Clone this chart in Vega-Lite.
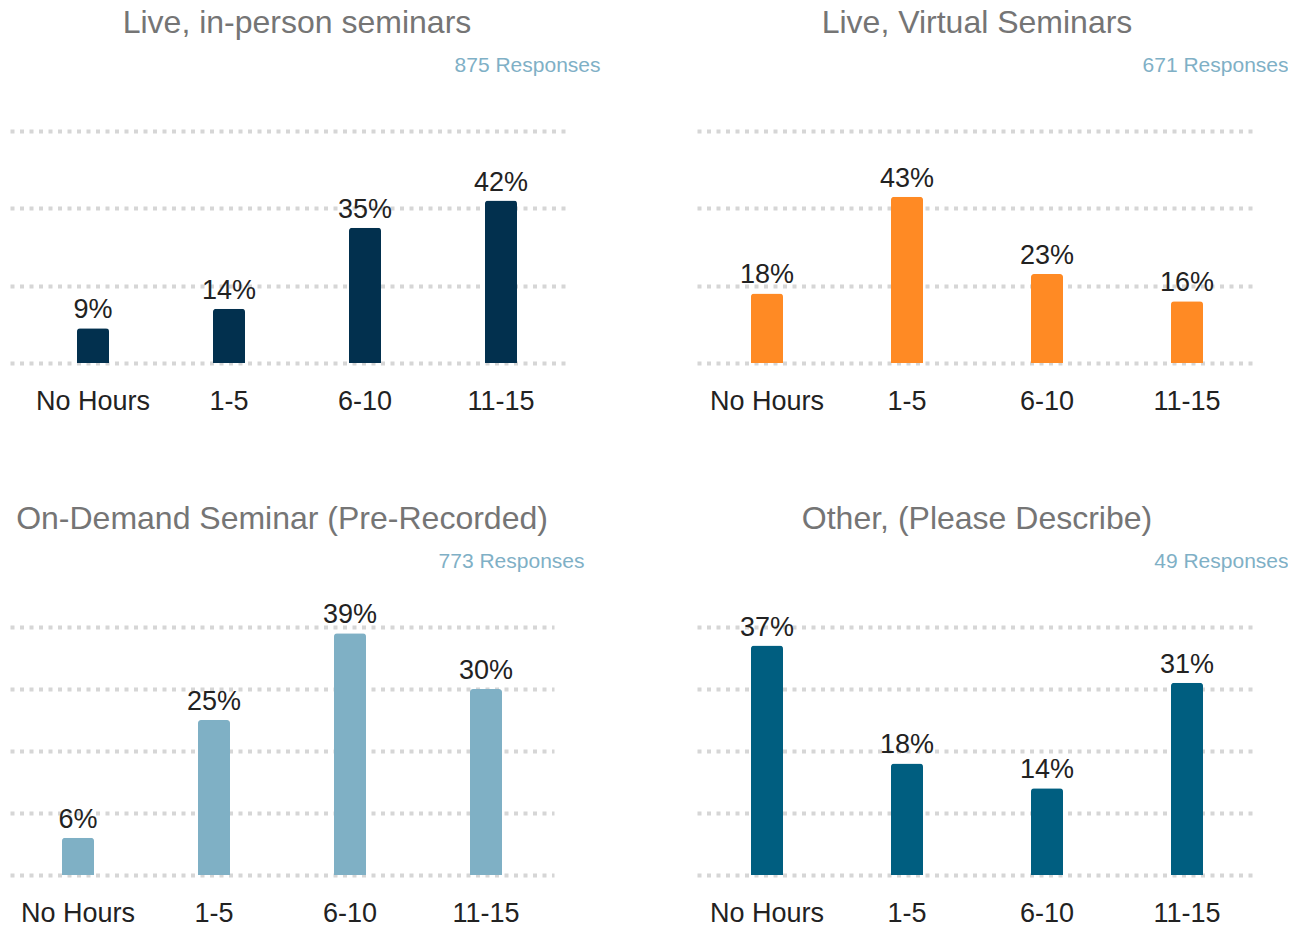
{
  "$schema": "https://vega.github.io/schema/vega-lite/v6.json",
  "padding": {"left": 10, "top": 7, "right": 0, "bottom": 0},
  "background": "white",
  "config": {
    "font": "Liberation Sans",
    "view": {"stroke": null},
    "title": {"fontSize": 32, "color": "#757575", "fontWeight": "normal", "anchor": "middle", "frame": "group", "offset": 14},
    "axis": {"gridColor": "#d6d6d6", "gridDash": [4, 5.5], "gridWidth": 4, "domain": false, "labelFont": "Liberation Sans", "titleFont": "Liberation Sans"}
  },
  "datasets": {
    "survey": [
      {"panel": "p1", "hours": "No Hours", "pct": 0.09},
      {"panel": "p1", "hours": "1-5", "pct": 0.14},
      {"panel": "p1", "hours": "6-10", "pct": 0.35},
      {"panel": "p1", "hours": "11-15", "pct": 0.42},
      {"panel": "p2", "hours": "No Hours", "pct": 0.18},
      {"panel": "p2", "hours": "1-5", "pct": 0.43},
      {"panel": "p2", "hours": "6-10", "pct": 0.23},
      {"panel": "p2", "hours": "11-15", "pct": 0.16},
      {"panel": "p3", "hours": "No Hours", "pct": 0.06},
      {"panel": "p3", "hours": "1-5", "pct": 0.25},
      {"panel": "p3", "hours": "6-10", "pct": 0.39},
      {"panel": "p3", "hours": "11-15", "pct": 0.30},
      {"panel": "p4", "hours": "No Hours", "pct": 0.37},
      {"panel": "p4", "hours": "1-5", "pct": 0.18},
      {"panel": "p4", "hours": "6-10", "pct": 0.14},
      {"panel": "p4", "hours": "11-15", "pct": 0.31}
    ]
  },
  "vconcat": [
    {
      "spacing": 97,
      "hconcat": [
        {
          "width": 559, "height": 232,
          "title": {"text": "Live, in-person seminars", "dx": 7.5},
          "data": {"name": "survey"},
          "transform": [{"filter": "datum.panel === 'p1'"}],
          "encoding": {
            "x": {"field": "hours", "type": "nominal", "sort": ["No Hours", "1-5", "6-10", "11-15"], "scale": {"paddingInner": 0, "paddingOuter": 0.05515, "align": 1},
              "axis": {"title": null, "labelAngle": 0, "ticks": false, "labelPadding": 25, "labelFontSize": 27, "labelColor": "#222222"}},
            "y": {"field": "pct", "type": "quantitative", "scale": {"domain": [0, 0.6]},
              "axis": {"title": "875 Responses", "values": [0, 0.2, 0.4, 0.6], "labels": false, "ticks": false, "grid": true,
                "titleAngle": 0, "titleX": 590, "titleY": -60, "titleAlign": "right", "titleBaseline": "alphabetic", "titleFontSize": 21, "titleColor": "#7fb0c6", "titleFontWeight": "normal"}}
          },
          "layer": [
            {"mark": {"type": "bar", "size": 32, "color": "#02304e", "cornerRadiusTopLeft": 3, "cornerRadiusTopRight": 3}},
            {"mark": {"type": "text", "baseline": "alphabetic", "dy": -10, "fontSize": 27, "color": "#222222"}, "encoding": {"text": {"field": "pct", "type": "quantitative", "format": ".0%"}}}
          ]
        },
        {
          "width": 560, "height": 232,
          "title": "Live, Virtual Seminars",
          "data": {"name": "survey"},
          "transform": [{"filter": "datum.panel === 'p2'"}],
          "encoding": {
            "x": {"field": "hours", "type": "nominal", "sort": ["No Hours", "1-5", "6-10", "11-15"], "scale": {"paddingInner": 0, "paddingOuter": 0},
              "axis": {"title": null, "labelAngle": 0, "ticks": false, "labelPadding": 25, "labelFontSize": 27, "labelColor": "#222222"}},
            "y": {"field": "pct", "type": "quantitative", "scale": {"domain": [0, 0.6]},
              "axis": {"title": "671 Responses", "values": [0, 0.2, 0.4, 0.6], "labels": false, "ticks": false, "grid": true,
                "titleAngle": 0, "titleX": 591, "titleY": -60, "titleAlign": "right", "titleBaseline": "alphabetic", "titleFontSize": 21, "titleColor": "#7fb0c6", "titleFontWeight": "normal"}}
          },
          "layer": [
            {"mark": {"type": "bar", "size": 32, "color": "#ff8a24", "cornerRadiusTopLeft": 3, "cornerRadiusTopRight": 3}},
            {"mark": {"type": "text", "baseline": "alphabetic", "dy": -10, "fontSize": 27, "color": "#222222"}, "encoding": {"text": {"field": "pct", "type": "quantitative", "format": ".0%"}}}
          ]
        }
      ]
    },
    {
      "spacing": 113,
      "hconcat": [
        {
          "width": 544, "height": 248,
          "title": "On-Demand Seminar (Pre-Recorded)",
          "data": {"name": "survey"},
          "transform": [{"filter": "datum.panel === 'p3'"}],
          "encoding": {
            "x": {"field": "hours", "type": "nominal", "sort": ["No Hours", "1-5", "6-10", "11-15"], "scale": {"paddingInner": 0, "paddingOuter": 0},
              "axis": {"title": null, "labelAngle": 0, "ticks": false, "labelPadding": 25, "labelFontSize": 27, "labelColor": "#222222"}},
            "y": {"field": "pct", "type": "quantitative", "scale": {"domain": [0, 0.4]},
              "axis": {"title": "773 Responses", "values": [0, 0.1, 0.2, 0.3, 0.4], "labels": false, "ticks": false, "grid": true,
                "titleAngle": 0, "titleX": 574, "titleY": -60, "titleAlign": "right", "titleBaseline": "alphabetic", "titleFontSize": 21, "titleColor": "#7fb0c6", "titleFontWeight": "normal"}}
          },
          "layer": [
            {"mark": {"type": "bar", "size": 32, "color": "#7fb0c5", "cornerRadiusTopLeft": 3, "cornerRadiusTopRight": 3}},
            {"mark": {"type": "text", "baseline": "alphabetic", "dy": -10, "fontSize": 27, "color": "#222222"}, "encoding": {"text": {"field": "pct", "type": "quantitative", "format": ".0%"}}}
          ]
        },
        {
          "width": 560, "height": 248,
          "title": "Other, (Please Describe)",
          "data": {"name": "survey"},
          "transform": [{"filter": "datum.panel === 'p4'"}],
          "encoding": {
            "x": {"field": "hours", "type": "nominal", "sort": ["No Hours", "1-5", "6-10", "11-15"], "scale": {"paddingInner": 0, "paddingOuter": 0},
              "axis": {"title": null, "labelAngle": 0, "ticks": false, "labelPadding": 25, "labelFontSize": 27, "labelColor": "#222222"}},
            "y": {"field": "pct", "type": "quantitative", "scale": {"domain": [0, 0.4]},
              "axis": {"title": "49 Responses", "values": [0, 0.1, 0.2, 0.3, 0.4], "labels": false, "ticks": false, "grid": true,
                "titleAngle": 0, "titleX": 591, "titleY": -60, "titleAlign": "right", "titleBaseline": "alphabetic", "titleFontSize": 21, "titleColor": "#7fb0c6", "titleFontWeight": "normal"}}
          },
          "layer": [
            {"mark": {"type": "bar", "size": 32, "color": "#005e80", "cornerRadiusTopLeft": 3, "cornerRadiusTopRight": 3}},
            {"mark": {"type": "text", "baseline": "alphabetic", "dy": -10, "fontSize": 27, "color": "#222222"}, "encoding": {"text": {"field": "pct", "type": "quantitative", "format": ".0%"}}}
          ]
        }
      ]
    }
  ],
  "spacing": 89
}
